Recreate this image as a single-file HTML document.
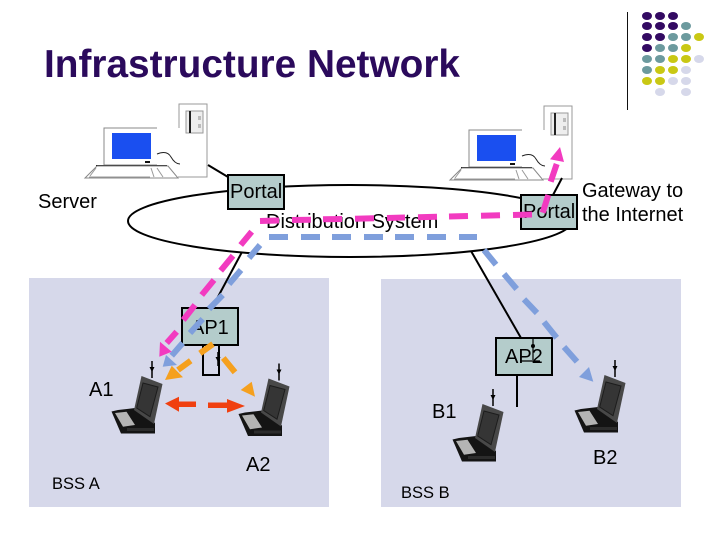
<!DOCTYPE html>
<html>
<head>
<meta charset="utf-8">
<style>
html,body{margin:0;padding:0;background:#fff}
svg{display:block}
text{font-family:"Liberation Sans",Arial,sans-serif;fill:#000}
</style>
</head>
<body>
<svg width="720" height="540" viewBox="0 0 720 540" xmlns="http://www.w3.org/2000/svg">
<defs>
<g id="pc">
  <path d="M179 128V104H207V177H178" fill="#fff" stroke="#999" stroke-width="1"/>
  <rect x="186" y="111" width="17" height="22" fill="#eee" stroke="#999"/>
  <rect x="189" y="111" width="2" height="22" fill="#222"/>
  <rect x="198" y="116" width="3" height="4" fill="#bbb"/>
  <rect x="198" y="124" width="3" height="4" fill="#bbb"/>
  <path d="M157 128H104V165H157" fill="#fff" stroke="#888"/>
  <rect x="112" y="133" width="39" height="26" fill="#1a4ff0"/>
  <rect x="145" y="161" width="5" height="2" fill="#111"/>
  <path d="M157 154Q167 150 171 157T180 164" fill="none" stroke="#222" stroke-width="1"/>
  <path d="M96 165.500H167" stroke="#111" stroke-width="1"/>
  <path d="M85 178L97 166H168L178 178Z" fill="#fff" stroke="#888"/>
  <path d="M89 177H150M151 168L154 177M157 168L163 177M96 168L90 176" fill="none" stroke="#999"/>
</g>
<g id="lap">
  <path d="M111.500 411.500L121 433.500H155V423L135 408L118 410Z" fill="#141414"/>
  <path d="M115 413L126.500 411.700L135 425L123 426.700Z" fill="#b4b4b4"/>
  <path d="M127 428H154V431H127Z" fill="#2c2c2c"/>
  <path d="M141.500 376L162.500 384L154 424L134 410Z" fill="#484848"/>
  <path d="M143 383L158 387L150 416.700L136.700 408Z" fill="#353535" stroke="#1c1c1c"/>
  <path d="M152 361V378" stroke="#000" stroke-width="1.500"/>
  <path d="M149.500 367H154.500L152 372Z" fill="#000"/>
</g>
</defs>

<text x="44" y="77" font-size="39" font-weight="700" style="fill:#2b0a5c" textLength="416" lengthAdjust="spacingAndGlyphs">Infrastructure Network</text>

<path d="M627.500 12V110" stroke="#111" stroke-width="1"/>
<g fill="#330a62">
  <ellipse cx="647" cy="16" rx="5" ry="4"/><ellipse cx="660" cy="16" rx="5" ry="4"/><ellipse cx="673" cy="16" rx="5" ry="4"/>
  <ellipse cx="647" cy="26" rx="5" ry="4"/><ellipse cx="660" cy="26" rx="5" ry="4"/><ellipse cx="673" cy="26" rx="5" ry="4"/>
  <ellipse cx="647" cy="37" rx="5" ry="4"/><ellipse cx="660" cy="37" rx="5" ry="4"/>
  <ellipse cx="647" cy="48" rx="5" ry="4"/>
</g>
<g fill="#6c9a9e">
  <ellipse cx="686" cy="26" rx="5" ry="4"/>
  <ellipse cx="673" cy="37" rx="5" ry="4"/><ellipse cx="686" cy="37" rx="5" ry="4"/>
  <ellipse cx="660" cy="48" rx="5" ry="4"/><ellipse cx="673" cy="48" rx="5" ry="4"/>
  <ellipse cx="647" cy="59" rx="5" ry="4"/><ellipse cx="660" cy="59" rx="5" ry="4"/>
  <ellipse cx="647" cy="70" rx="5" ry="4"/>
</g>
<g fill="#c9c814">
  <ellipse cx="699" cy="37" rx="5" ry="4"/>
  <ellipse cx="686" cy="48" rx="5" ry="4"/>
  <ellipse cx="673" cy="59" rx="5" ry="4"/><ellipse cx="686" cy="59" rx="5" ry="4"/>
  <ellipse cx="660" cy="70" rx="5" ry="4"/><ellipse cx="673" cy="70" rx="5" ry="4"/>
  <ellipse cx="647" cy="81" rx="5" ry="4"/><ellipse cx="660" cy="81" rx="5" ry="4"/>
</g>
<g fill="#d6d8ea">
  <ellipse cx="699" cy="59" rx="5" ry="4"/>
  <ellipse cx="686" cy="70" rx="5" ry="4"/>
  <ellipse cx="673" cy="81" rx="5" ry="4"/><ellipse cx="686" cy="81" rx="5" ry="4"/>
  <ellipse cx="660" cy="92" rx="5" ry="4"/><ellipse cx="686" cy="92" rx="5" ry="4"/>
</g>

<rect x="29" y="278" width="300" height="229" fill="#d6d8ea"/>
<rect x="381" y="279" width="300" height="228" fill="#d6d8ea"/>

<use href="#pc"/>
<use href="#pc" x="365" y="2"/>

<ellipse cx="350" cy="221" rx="222" ry="36" fill="none" stroke="#000" stroke-width="2"/>

<g stroke="#000" stroke-width="2" fill="none">
  <path d="M208 165L228 177"/>
  <path d="M562 178L553 195"/>
  <path d="M242 252L212 308"/>
  <path d="M471 251L521 338"/>
  <path d="M203 345V375H219V345"/>
  <path d="M517 375V407"/>
</g>
<path d="M218 352V366" stroke="#000" stroke-width="1.500"/>
<path d="M215.500 357H220.500L218 362Z" fill="#000"/>

<use href="#lap"/>
<use href="#lap" x="127" y="2.500"/>
<use href="#lap" x="341" y="28"/>
<use href="#lap" x="463" y="-1"/>

<g fill="#b4cccb" stroke="#000" stroke-width="2">
  <rect x="228" y="175" width="56" height="34"/>
  <rect x="521" y="195" width="56" height="34"/>
  <rect x="182" y="308" width="56" height="37"/>
  <rect x="496" y="338" width="56" height="37"/>
</g>
<path d="M533 338V360M521 361H540" stroke="#000" stroke-width="1.200"/>
<circle cx="533" cy="346" r="2" fill="#000"/>

<g font-size="20">
  <text x="230" y="198">Portal</text>
  <text x="523" y="218">Portal</text>
  <text x="38" y="208">Server</text>
  <text x="266" y="228">Distribution System</text>
  <text x="582" y="197">Gateway to</text>
  <text x="582" y="221">the Internet</text>
  <text x="191" y="334">AP1</text>
  <text x="505" y="363">AP2</text>
  <text x="89" y="396">A1</text>
  <text x="246" y="471">A2</text>
  <text x="432" y="418">B1</text>
  <text x="593" y="464">B2</text>
</g>
<g font-size="16.500">
  <text x="52" y="489">BSS A</text>
  <text x="401" y="498">BSS B</text>
</g>

<g stroke="#7f9fdc" stroke-width="6" fill="none">
  <path d="M269 237H288M301 237H320M332 237H351M364 237H383M395 237H414M427 237H446M459 237H477"/>
  <path d="M260 245L249 258M241 270L229 284M222.700 295L209 309M202.700 319L190 333M182.700 343L171.700 355.700"/>
  <path d="M484 250L496 264.700M504 274L516.700 289M524 299.300L537 313M544 322L556.700 337.700M564 347L577 361.700"/>
</g>
<path d="M162.700 366.700L166 355L177 365Z" fill="#7f9fdc"/>
<path d="M593.300 381.700L589 367L579 377Z" fill="#7f9fdc"/>

<g stroke="#f23bc0" stroke-width="6" fill="none">
  <path d="M260 221L279 220.500M292 220L311 219.700M323 219.300L342 219M355 218.700L374 218.300M387 218L405 217.500M418 217.200L437 216.800M449 216.500L468 216M481 215.800L500 215.300M513 215L532 214.500"/>
  <path d="M548.300 195L542.700 212.700M556.700 164L550.700 181.700"/>
  <path d="M251.700 231.700L240.700 245M233 255.700L220.700 270.700M214 280L201.700 295M195 305L183.300 320M176.700 331.700L166.700 343"/>
</g>
<path d="M560 147L550 159.300L564 162Z" fill="#f23bc0"/>
<path d="M159.300 356.700L160 341.700L171.700 351.700Z" fill="#f23bc0"/>

<g stroke="#f5a01e" stroke-width="6" fill="none">
  <path d="M213 344L200 353.300M190.700 360.700L178 370M223.300 358L235 372.300"/>
</g>
<path d="M165 380L171.700 365.700L183 377.300Z" fill="#f5a01e"/>
<path d="M255 396.700L240.700 390L251.700 381.700Z" fill="#f5a01e"/>

<g stroke="#f04010" stroke-width="5.500" fill="none">
  <path d="M177 404.300H196M208 405.300H229"/>
</g>
<path d="M165 403.500L179 396.700V411.700Z" fill="#f04010"/>
<path d="M245 406L227 399V412.700Z" fill="#f04010"/>
</svg>
</body>
</html>
